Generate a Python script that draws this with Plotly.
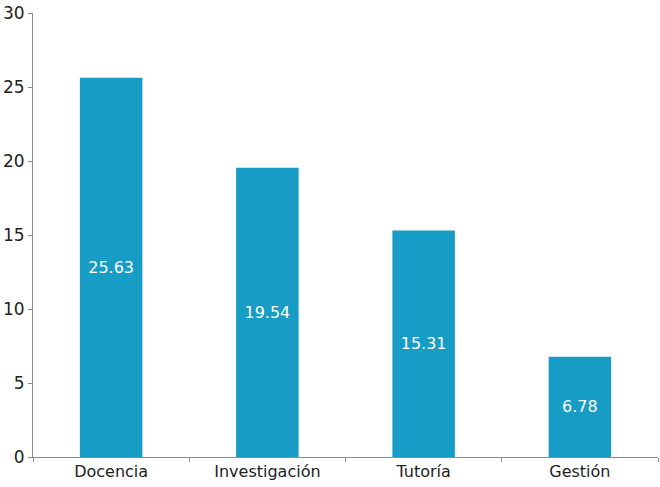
import plotly.graph_objects as go

categories = ["Docencia", "Investigación", "Tutoría", "Gestión"]
values = [25.63, 19.54, 15.31, 6.78]
labels = ["25.63", "19.54", "15.31", "6.78"]
y_ticks = [0, 5, 10, 15, 20, 25, 30]

FONT = "DejaVu Sans"

fig = go.Figure(go.Bar(
    x=categories, y=values, text=labels,
    textposition="inside", insidetextanchor="middle",
    textfont=dict(color="white", size=16, family=FONT),
    marker=dict(color="#169cc5", line=dict(width=0)),
    width=0.4, textangle=0,
))
fig.update_layout(
    width=660, height=487,
    margin=dict(l=33, r=2, t=13, b=30),
    plot_bgcolor="white", paper_bgcolor="white",
    showlegend=False,
    font=dict(family=FONT, color="#222222"),
)
fig.update_yaxes(
    range=[0, 30], tickvals=y_ticks, showgrid=False, zeroline=False,
    showline=True, linecolor="#8c8c8c", linewidth=1,
    ticks="outside", ticklen=4, tickcolor="#8c8c8c",
    tickfont=dict(size=17, color="#222222"), automargin=False,
)
fig.update_xaxes(
    showgrid=False, showline=True, linecolor="#8c8c8c", linewidth=1,
    ticks="outside", ticklen=4, tickcolor="#8c8c8c", tickson="boundaries",
    tickfont=dict(size=16, color="#222222"), automargin=False,
)
fig.write_html("out.html", post_script="document.body.style.margin='0';",
               config={"displayModeBar": False})
